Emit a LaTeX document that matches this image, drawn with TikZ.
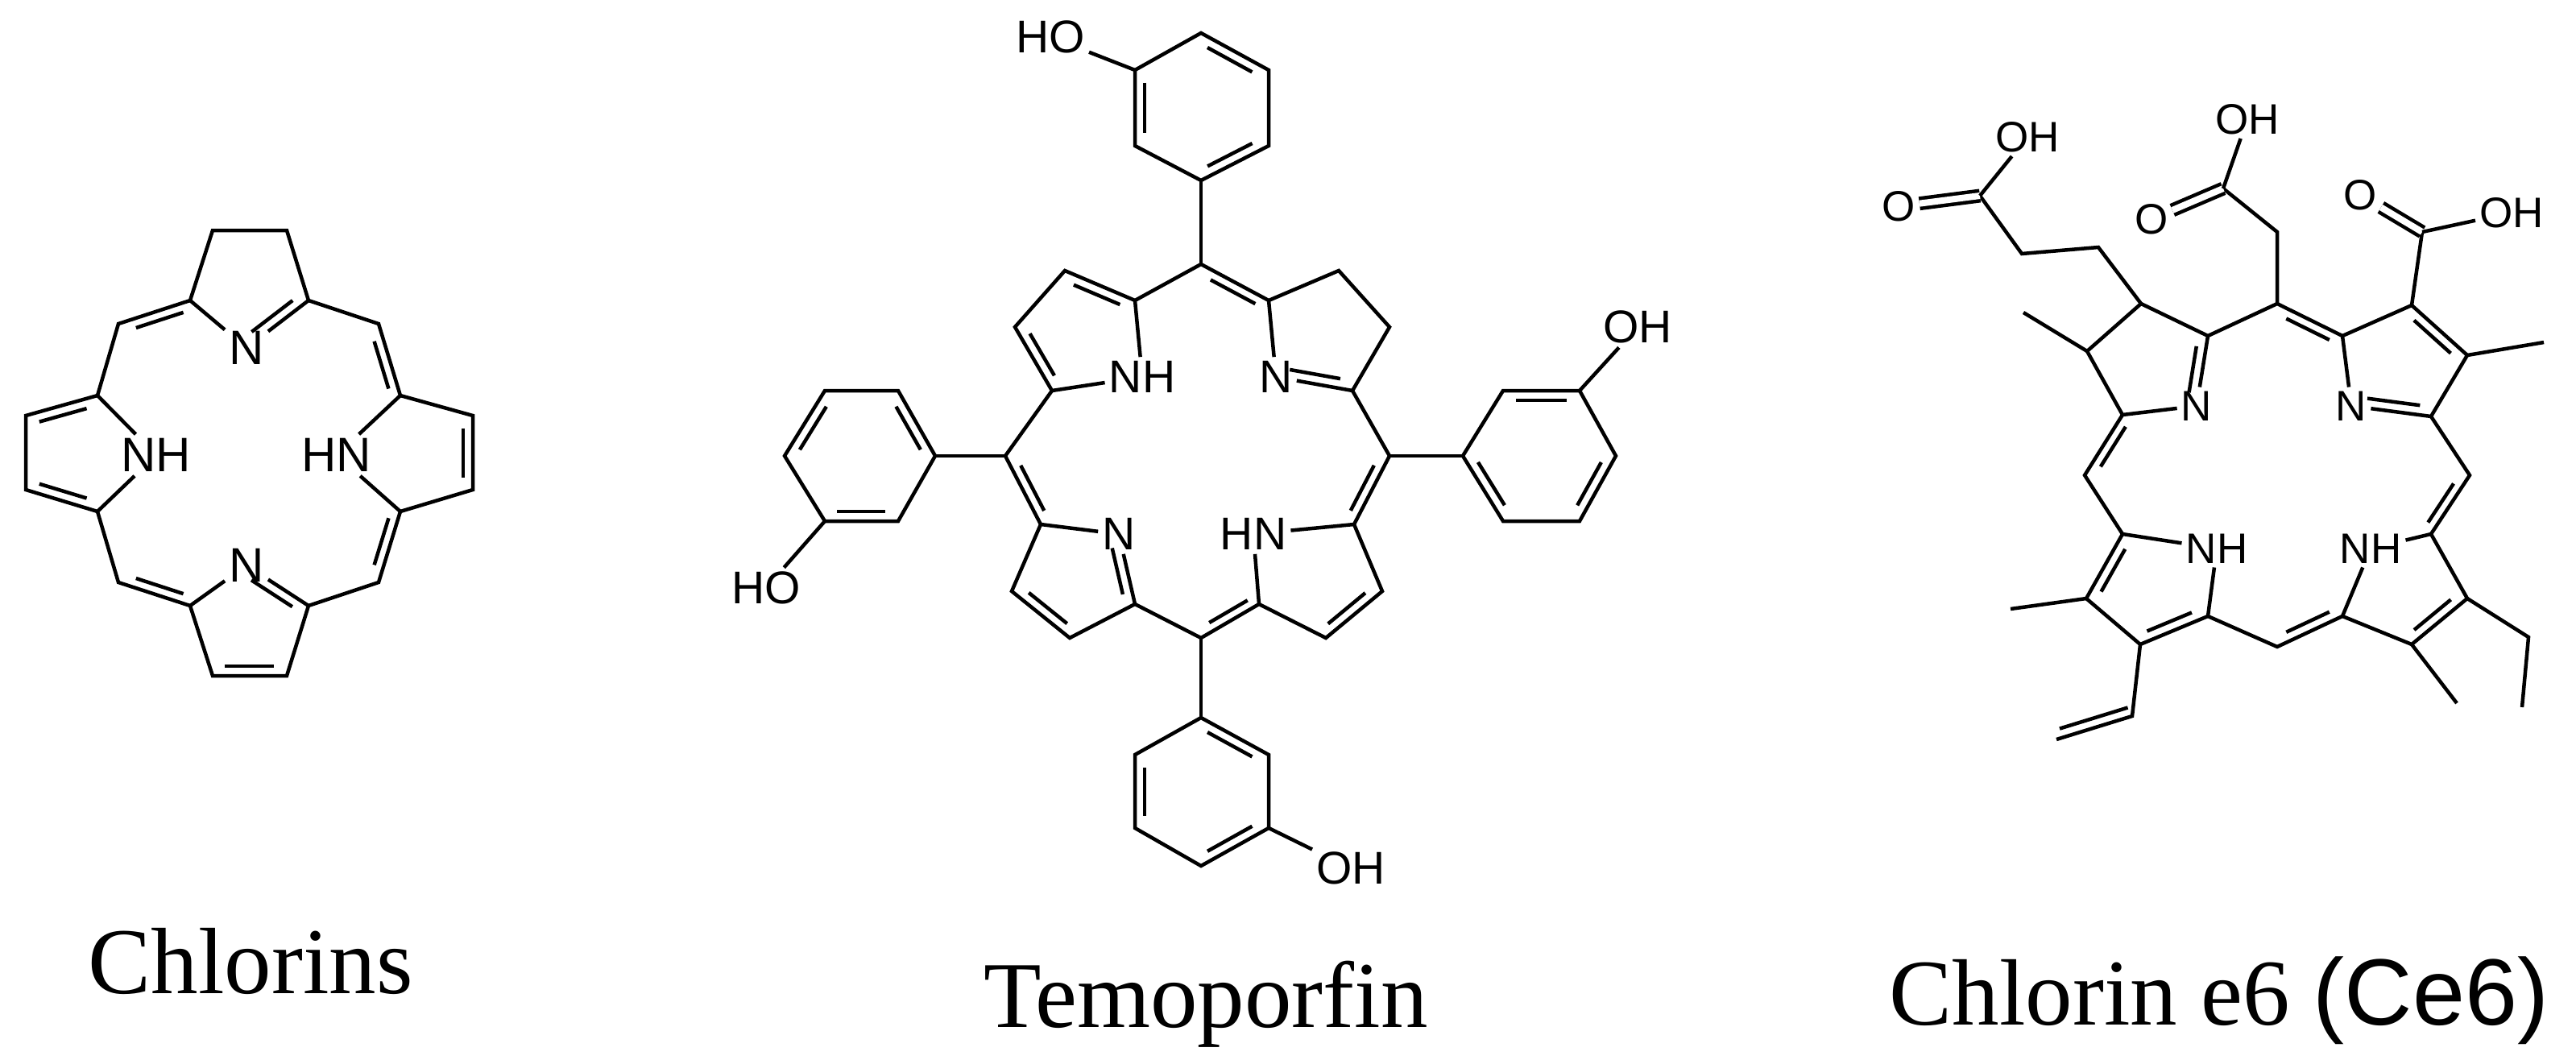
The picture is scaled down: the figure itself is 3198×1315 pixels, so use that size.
\documentclass[tikz,border=0pt]{standalone}
\usepackage{fontspec}
\setmainfont{Liberation Serif}
\newfontfamily\atomfont{Liberation Sans}
\usetikzlibrary{calc}
\newcommand\db[4][0.17]{\draw let \p1=($(#2)!0.5!(#3)$), \p2=($(\p1)!12pt!(#4)$) in ($(#2)!#1!(#3)+(\x2-\x1,\y2-\y1)$) -- ($(#3)!#1!(#2)+(\x2-\x1,\y2-\y1)$);}
\tikzset{
 atomA/.style={inner sep=3pt,font=\atomfont\fontsize{60}{60}\selectfont},
 atomB/.style={inner sep=3pt,font=\atomfont\fontsize{57}{57}\selectfont},
 atomC/.style={inner sep=3pt,font=\atomfont\fontsize{53}{53}\selectfont},
 title/.style={anchor=base,font=\fontsize{117}{120}\selectfont},
 dbl/.style={double,double distance=8pt},
}
\begin{document}
\begin{tikzpicture}[x=1pt,y=-1pt,line width=4.5pt,line join=miter]
\useasboundingbox (0,0) rectangle (3198,1315);
% ================= Chlorins
\coordinate (a1) at (264,286); \coordinate (a2) at (356,286);
\coordinate (a3) at (236,373); \coordinate (a4) at (383,373);
\node[atomA] (N1) at (306,432) {N};
\coordinate (m1) at (147,402); \coordinate (m2) at (470,402);
\coordinate (b1) at (121,491); \coordinate (b2) at (32,516);
\coordinate (b3) at (32,608); \coordinate (b4) at (121,635);
\node[atomA] (NHa) at (194,565) {NH};
\coordinate (c1) at (497,491); \coordinate (c2) at (587,516);
\coordinate (c3) at (587,608); \coordinate (c4) at (497,635);
\node[atomA] (HNa) at (418,565) {HN};
\coordinate (m3) at (147,723); \coordinate (m4) at (470,723);
\coordinate (d1) at (236,752); \coordinate (d2) at (383,752);
\coordinate (d3) at (264,839); \coordinate (d4) at (356,839);
\node[atomA] (N2) at (306,702) {N};
\coordinate (cc) at (310,562);
\coordinate (ct) at (306,345); \coordinate (cb) at (306,780);
\coordinate (cl) at (85,563); \coordinate (cr) at (533,563);
\draw (a3)--(a1)--(a2)--(a4); \draw (a3)--(N1)--(a4);
\draw (a3)--(m1)--(b1)--(b2)--(b3)--(b4)--(m3)--(d1)--(d3)--(d4)--(d2)--(m4)--(c4)--(c3)--(c2)--(c1)--(m2)--(a4);
\draw (b1)--(NHa)--(b4); \draw (c1)--(HNa)--(c4); \draw (d1)--(N2)--(d2);
\db{a3}{m1}{cc} \db{N1}{a4}{ct} \db{m2}{c1}{cc} \db{c2}{c3}{cr} \db{c4}{m4}{cc}
\db{N2}{d2}{cb} \db{d3}{d4}{cb} \db{m3}{d1}{cc} \db{b3}{b4}{cl} \db{b1}{b2}{cl}
\node[title] (t1) at (311,1233) {Chlorins};
% ================= Temoporfin
\coordinate (T) at (1491,328); \coordinate (L) at (1248,566);
\coordinate (R) at (1725,566); \coordinate (B) at (1491,792);
\coordinate (tc) at (1491,560);
\coordinate (p1) at (1409,373); \coordinate (p2) at (1322,336);
\coordinate (p3) at (1260,406); \coordinate (p4) at (1306,485);
\node[atomB] (NHt) at (1418,468) {NH}; \coordinate (pc) at (1345,415);
\coordinate (q1) at (1575,373); \coordinate (q2) at (1662,336);
\coordinate (q3) at (1725,406); \coordinate (q4) at (1679,485);
\node[atomB] (Nt) at (1584,468) {N}; \coordinate (qc) at (1637,415);
\coordinate (r1) at (1292,651); \coordinate (r2) at (1256,734);
\coordinate (r3) at (1328,792); \coordinate (r4) at (1409,750);
\node[atomB] (Nb) at (1389,663) {N}; \coordinate (rc) at (1340,720);
\coordinate (s1) at (1681,651); \coordinate (s2) at (1716,734);
\coordinate (s3) at (1646,792); \coordinate (s4) at (1563,750);
\node[atomB] (HNt) at (1556,663) {HN}; \coordinate (sc) at (1630,720);
\draw (T)--(p1)--(p2)--(p3)--(p4)--(L)--(r1)--(r2)--(r3)--(r4)--(B)--(s4)--(s3)--(s2)--(s1)--(R)--(q4)--(q3)--(q2)--(q1)--(T);
\draw (p1)--(NHt)--(p4); \draw (q1)--(Nt)--(q4); \draw (r1)--(Nb)--(r4); \draw (s1)--(HNt)--(s4);
\db{T}{q1}{tc} \db{p1}{p2}{pc} \db{p3}{p4}{pc} \db{Nt}{q4}{qc}
\db{L}{r1}{tc} \db{Nb}{r4}{rc} \db{r2}{r3}{rc} \db{B}{s4}{tc}
\db{s2}{s3}{sc} \db{R}{s1}{tc}
% top phenyl
\coordinate (u1) at (1491,224); \coordinate (u2) at (1575,181); \coordinate (u3) at (1575,87);
\coordinate (u4) at (1491,41); \coordinate (u5) at (1409,87); \coordinate (u6) at (1409,181);
\coordinate (uc) at (1491,132);
\draw (u1)--(u2)--(u3)--(u4)--(u5)--(u6)--cycle; \draw (T)--(u1);
\db{u1}{u2}{uc} \db{u3}{u4}{uc} \db{u5}{u6}{uc}
\node[atomB] (OHu) at (1304,46) {HO}; \draw (u5)--(OHu);
% left phenyl
\coordinate (l1) at (1161,566); \coordinate (l2) at (1115,485); \coordinate (l3) at (1024,485);
\coordinate (l4) at (974,566); \coordinate (l5) at (1024,647); \coordinate (l6) at (1115,647);
\coordinate (lc) at (1068,566);
\draw (l1)--(l2)--(l3)--(l4)--(l5)--(l6)--cycle; \draw (L)--(l1);
\db{l1}{l2}{lc} \db{l3}{l4}{lc} \db{l5}{l6}{lc}
\node[atomB] (OHl) at (951,730) {HO}; \draw (l5)--(OHl);
% right phenyl
\coordinate (g1) at (1816,566); \coordinate (g2) at (1866,485); \coordinate (g3) at (1961,485);
\coordinate (g4) at (2006,566); \coordinate (g5) at (1961,647); \coordinate (g6) at (1866,647);
\coordinate (gc) at (1911,566);
\draw (g1)--(g2)--(g3)--(g4)--(g5)--(g6)--cycle; \draw (R)--(g1);
\db{g2}{g3}{gc} \db{g4}{g5}{gc} \db{g6}{g1}{gc}
\node[atomB] (OHg) at (2033,406) {OH}; \draw (g3)--(OHg);
% bottom phenyl
\coordinate (h1) at (1491,891); \coordinate (h2) at (1575,937); \coordinate (h3) at (1575,1028);
\coordinate (h4) at (1491,1075); \coordinate (h5) at (1409,1028); \coordinate (h6) at (1409,937);
\coordinate (hc) at (1491,983);
\draw (h1)--(h2)--(h3)--(h4)--(h5)--(h6)--cycle; \draw (B)--(h1);
\db{h1}{h2}{hc} \db{h3}{h4}{hc} \db{h5}{h6}{hc}
\node[atomB] (OHh) at (1677,1078) {OH}; \draw (h3)--(OHh);
\node[title] (t2) at (1497,1275) {Temoporfin};
% ================= Chlorin e6
\coordinate (TM) at (2827,377); \coordinate (LM) at (2588,590);
\coordinate (RM) at (3066,590); \coordinate (BM) at (2827,803);
\coordinate (ec) at (2827,590);
\coordinate (A1) at (2741,417); \coordinate (A2) at (2658,377);
\coordinate (A3) at (2591,436); \coordinate (A4) at (2635,515);
\node[atomC] (NA) at (2727,504) {N}; \coordinate (Ac) at (2670,450);
\coordinate (B1) at (2908,417); \coordinate (B2) at (2994,379);
\coordinate (B3) at (3063,441); \coordinate (B4) at (3018,517);
\node[atomC] (NB) at (2919,504) {N}; \coordinate (Bc) at (2985,450);
\coordinate (C1) at (2635,663); \coordinate (C2) at (2590,743);
\coordinate (C3) at (2657,800); \coordinate (C4) at (2741,765);
\node[atomC] (NC) at (2752,681) {NH}; \coordinate (Cc) at (2670,730);
\coordinate (D1) at (3018,663); \coordinate (D2) at (3063,743);
\coordinate (D3) at (2994,800); \coordinate (D4) at (2908,765);
\node[atomC] (ND) at (2943,681) {NH}; \coordinate (Dc) at (2985,730);
\draw (TM)--(A1)--(A2)--(A3)--(A4)--(LM)--(C1)--(C2)--(C3)--(C4)--(BM)--(D4)--(D3)--(D2)--(D1)--(RM)--(B4)--(B3)--(B2)--(B1)--(TM);
\draw (A1)--(NA)--(A4); \draw (B1)--(NB)--(B4); \draw (C1)--(NC)--(C4); \draw (D1)--(ND)--(D4);
\db{NA}{A1}{Ac} \db{A4}{LM}{ec} \db{TM}{B1}{ec} \db{B2}{B3}{Bc} \db{NB}{B4}{Bc}
\db{RM}{D1}{ec} \db{D2}{D3}{Dc} \db{BM}{D4}{ec} \db{C3}{C4}{Cc} \db{C1}{C2}{Cc}
% substituents
\coordinate (MeA) at (2512,388); \draw (A3)--(MeA);
\coordinate (P1) at (2605,307); \coordinate (P2) at (2510,315); \coordinate (P3) at (2458,243);
\draw (A2)--(P1)--(P2)--(P3);
\node[atomC] (Oa) at (2357,256) {O}; \node[atomC] (OHa) at (2517,170) {OH};
\draw[dbl] (P3)--(Oa); \draw (P3)--(OHa);
\coordinate (Q1) at (2827,288); \coordinate (Q2) at (2760,234);
\draw (TM)--(Q1)--(Q2);
\node[atomC] (Ob) at (2671,272) {O}; \node[atomC] (OHb) at (2790,148) {OH};
\draw[dbl] (Q2)--(Ob); \draw (Q2)--(OHb);
\coordinate (R1) at (3007,288); \draw (B2)--(R1);
\node[atomC] (Oc) at (2930,242) {O}; \node[atomC] (OHc) at (3118,264) {OH};
\draw[dbl] (R1)--(Oc); \draw (R1)--(OHc);
\coordinate (MeB) at (3158,425); \draw (B3)--(MeB);
\coordinate (MeC) at (2496,756); \draw (C2)--(MeC);
\coordinate (V1) at (2647,889); \coordinate (V2) at (2553,918);
\draw (C3)--(V1)--(V2); \db[0.05]{V1}{V2}{C2}
\coordinate (MeD) at (3050,873); \draw (D3)--(MeD);
\coordinate (E1) at (3139,791); \coordinate (E2) at (3131,878);
\draw (D2)--(E1)--(E2);
\node[title] (t3) at (2755,1272) {Chlorin e6 {\atomfont (Ce6)}};
\end{tikzpicture}
\end{document}
